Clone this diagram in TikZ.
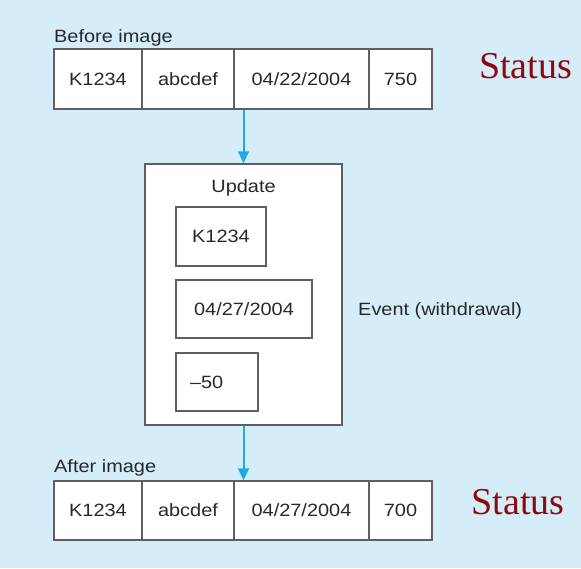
\documentclass[tikz,border=0pt]{standalone}
\usepackage{fontspec}
\setmainfont{Liberation Sans}[FakeStretch=1.12]
\newfontfamily\statusfont{Liberation Serif}
\usetikzlibrary{arrows.meta}
\definecolor{bg}{RGB}{213,237,249}
\definecolor{bordergrey}{RGB}{95,95,95}
\definecolor{arrowblue}{RGB}{30,170,225}
\definecolor{statusred}{RGB}{140,10,15}
\definecolor{txt}{RGB}{40,40,40}
\tikzset{
  cell/.style={draw=bordergrey, line width=1.5pt, fill=white, inner sep=0pt,
    font=\fontsize{17.8}{20}\selectfont, text=txt},
  plain/.style={inner sep=0pt, font=\fontsize{17.8}{20}\selectfont, text=txt},
  arr/.style={draw=arrowblue, line width=2pt, -{Triangle[length=12pt,width=11pt]}},
  status/.style={inner sep=0pt, text=statusred, font=\statusfont\fontsize{38}{40}\selectfont}
}
\begin{document}
\begin{tikzpicture}[x=1pt,y=-1pt]
\useasboundingbox (0,0) rectangle (581,568);
\fill[bg] (0,0) rectangle (581,568);

% Before image row
\node[plain, anchor=west] (beforelbl) at (54,38) {Before image};
\node[cell, minimum width=88pt, minimum height=60pt] (b1) at (98,79) {K1234};
\node[cell, minimum width=92pt, minimum height=60pt] (b2) at (188,79) {abcdef};
\node[cell, minimum width=135pt, minimum height=60pt] (b3) at (301.5,79) {04/22/2004};
\node[cell, minimum width=63pt, minimum height=60pt] (b4) at (400.5,79) {750};
\node[status] (st1) at (525.5,66) {Status};

% Update box
\node[cell, minimum width=197pt, minimum height=261pt] (upd) at (243.5,294.5) {};
\node[plain] (updlbl) at (243.5,188) {Update};
\node[cell, minimum width=90pt, minimum height=59pt] (u1) at (221,236.5) {K1234};
\node[cell, minimum width=136pt, minimum height=58pt] (u2) at (244,309) {04/27/2004};
\node[cell, minimum width=82pt, minimum height=58pt, text width=54pt, align=left] (u3) at (217,382) {–50};
\node[plain, anchor=west] (event) at (358,311) {Event (withdrawal)};

% After image row
\node[plain, anchor=west] (afterlbl) at (54,468) {After image};
\node[cell, minimum width=88pt, minimum height=59pt] (a1) at (98,510.5) {K1234};
\node[cell, minimum width=92pt, minimum height=59pt] (a2) at (188,510.5) {abcdef};
\node[cell, minimum width=135pt, minimum height=59pt] (a3) at (301.5,510.5) {04/27/2004};
\node[cell, minimum width=63pt, minimum height=59pt] (a4) at (400.5,510.5) {700};
\node[status] (st2) at (518,502) {Status};

% Arrows
\draw[arr] (b3.south -| upd.north) -- (upd.north);
\draw[arr] (upd.south) -- (upd.south |- a3.north);
\end{tikzpicture}
\end{document}
